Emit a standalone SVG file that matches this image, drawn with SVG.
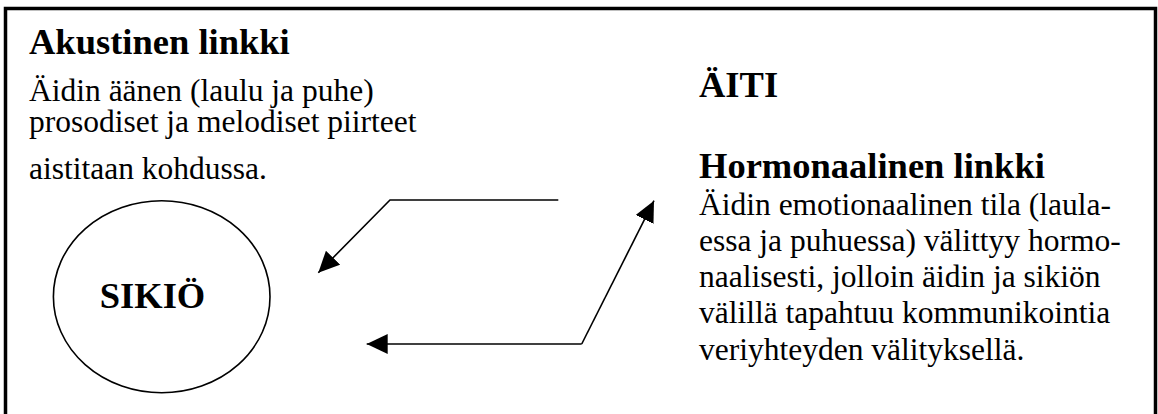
<svg xmlns="http://www.w3.org/2000/svg" width="1158" height="414" viewBox="0 0 1158 414">
  <style>
    text { font-family: "Liberation Serif", "Times New Roman", serif; fill: #000; }
    .head { font-size: 36.5px; font-weight: bold; }
    .body { font-size: 31.5px; }
    .conn { fill: none; stroke: #000; stroke-width: 1.6; marker-end: url(#arrow); }
  </style>
  <defs>
    <marker id="arrow" markerUnits="userSpaceOnUse" markerWidth="22" markerHeight="20" refX="21" refY="10" orient="auto">
      <path d="M0,0 L21,10 L0,20 Z" fill="#000"/>
    </marker>
  </defs>

  <rect width="1158" height="414" fill="#fff"/>
  <!-- frame: open at the bottom edge -->
  <rect x="5.5" y="8.5" width="1150" height="430" fill="none" stroke="#000" stroke-width="3.5"/>

  <g id="akustinen-linkki">
    <text class="head" x="29" y="54">Akustinen linkki</text>
    <text class="body" x="29" y="101">Äidin äänen (laulu ja puhe)</text>
    <text class="body" x="29" y="132">prosodiset ja melodiset piirteet</text>
    <text class="body" x="29" y="179">aistitaan kohdussa.</text>
  </g>

  <g id="sikio">
    <ellipse cx="161.7" cy="296.7" rx="108.3" ry="96" fill="none" stroke="#000" stroke-width="1.6"/>
    <text class="head" x="152.5" y="307.5" text-anchor="middle">SIKIÖ</text>
  </g>

  <g id="aiti">
    <text class="head" x="699" y="97">ÄITI</text>
  </g>

  <g id="hormonaalinen-linkki">
    <text class="head" x="699" y="178">Hormonaalinen linkki</text>
    <text class="body" x="699" y="215">Äidin emotionaalinen tila (laula-</text>
    <text class="body" x="699" y="251">essa ja puhuessa) välittyy hormo-</text>
    <text class="body" x="699" y="287">naalisesti, jolloin äidin ja sikiön</text>
    <text class="body" x="699" y="323">välillä tapahtuu kommunikointia</text>
    <text class="body" x="699" y="360">veriyhteyden välityksellä.</text>
  </g>

  <g id="connectors">
    <path class="conn" d="M558.3,200 L390,200 L318.3,272.7"/>
    <path class="conn" d="M581.7,344 L654,200.7"/>
    <path class="conn" d="M581.7,344 L366.7,344"/>
  </g>
</svg>
